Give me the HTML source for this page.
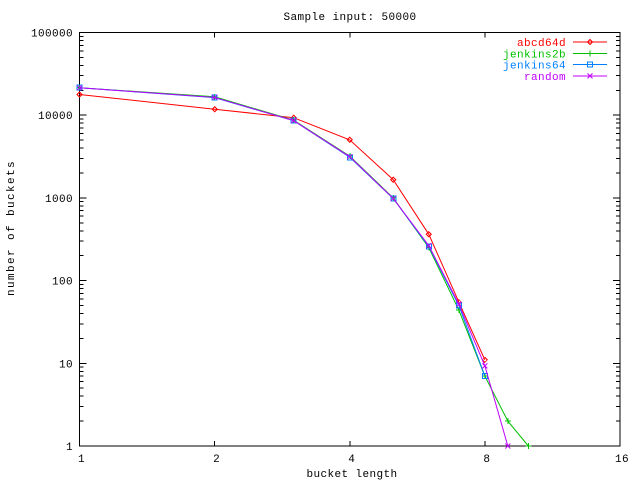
<!DOCTYPE html>
<html><head><meta charset="utf-8"><style>
html,body{margin:0;padding:0;background:#fff}
svg text{font-family:"Liberation Mono",monospace;font-size:11px;letter-spacing:0.4px}
</style></head><body>
<svg id="s" width="640" height="480" xmlns="http://www.w3.org/2000/svg" shape-rendering="crispEdges">
<text x="350" y="20" text-anchor="middle">Sample input: 50000</text>
<text x="352" y="477" text-anchor="middle">bucket length</text>
<text transform="translate(14,228) rotate(-90)" text-anchor="middle" style="letter-spacing:1.4px">number of buckets</text>
</svg>
<script>
var s=document.getElementById('s'),NS='http://www.w3.org/2000/svg';
function el(t,a,txt){var e=document.createElementNS(NS,t);for(var k in a)e.setAttribute(k,a[k]);if(txt)e.textContent=txt;s.appendChild(e);return e;}
var L=79.5,R=620,T=32.5,B=446,D=(B-T)/5,O=(R-L)/4;
function X(x){return L+Math.log2(x)*O}
function Y(v){return B-Math.log10(v)*D}
el('rect',{x:L,y:T,width:R-L,height:B-T,fill:'none',stroke:'#000','stroke-width':1});
var lab=['1','10','100','1000','10000','100000'];
for(var d=0;d<=5;d++){var y=Y(Math.pow(10,d));
 el('line',{x1:L,y1:y,x2:L+7,y2:y,stroke:'#000'});el('line',{x1:R,y1:y,x2:R-7,y2:y,stroke:'#000'});
 el('text',{x:73,y:y+4,'text-anchor':'end'},lab[d]);
 if(d<5)for(var m=2;m<10;m++){var yy=Y(m*Math.pow(10,d));el('line',{x1:L,y1:yy,x2:L+4,y2:yy,stroke:'#000'});el('line',{x1:R,y1:yy,x2:R-4,y2:yy,stroke:'#000'});}
}
[1,2,4,8,16].forEach(function(v){var x=X(v);el('line',{x1:x,y1:B,x2:x,y2:B-5,stroke:'#000'});el('line',{x1:x,y1:T,x2:x,y2:T+5,stroke:'#000'});el('text',{x:x+2,y:462,'text-anchor':'middle'},''+v);});
var S=[
 {n:'abcd64d',c:'#ff0000',m:'d',d:[[1,17800],[2,11800],[3,9330],[4,5030],[5,1660],[6,363],[7,55],[8,11]]},
 {n:'jenkins2b',c:'#00c000',m:'p',d:[[1,21500],[2,16700],[3,8700],[4,3200],[5,1000],[6,250],[7,44],[8,7],[9,2],[10,1]]},
 {n:'jenkins64',c:'#0080ff',m:'s',d:[[1,21500],[2,16300],[3,8580],[4,3100],[5,980],[6,258],[7,50],[8,7]]},
 {n:'random',c:'#c000ff',m:'x',d:[[1,21500],[2,16400],[3,8600],[4,3150],[5,985],[6,265],[7,52],[8,9.3],[9,1]]}];
function mk(x,y,t,c){if(t=='d')el('path',{d:'M'+(x-2.5)+' '+y+'L'+x+' '+(y-2.5)+'L'+(x+2.5)+' '+y+'L'+x+' '+(y+2.5)+'Z',fill:'none',stroke:c});
 else if(t=='p')el('path',{d:'M'+(x-3)+' '+y+'H'+(x+3)+'M'+x+' '+(y-3)+'V'+(y+3),stroke:c});
 else if(t=='s')el('rect',{x:x-2.5,y:y-2.5,width:5,height:5,fill:'none',stroke:c});
 else el('path',{d:'M'+(x-2.5)+' '+(y-2.5)+'L'+(x+2.5)+' '+(y+2.5)+'M'+(x-2.5)+' '+(y+2.5)+'L'+(x+2.5)+' '+(y-2.5),stroke:c,'shape-rendering':'auto'});}
S.forEach(function(o,i){
 el('polyline',{points:o.d.map(function(p){return X(p[0])+','+Y(p[1])}).join(' '),fill:'none',stroke:o.c,'stroke-width':1,'shape-rendering':'auto'});
 o.d.forEach(function(p){mk(X(p[0]),Y(p[1]),o.m,o.c)});
 var ly=42+i*11.3;
 el('text',{x:566,y:ly+4,'text-anchor':'end',fill:o.c},o.n);
 el('line',{x1:573,y1:ly,x2:607,y2:ly,stroke:o.c});mk(590,ly,o.m,o.c);
});
</script>
</body></html>
